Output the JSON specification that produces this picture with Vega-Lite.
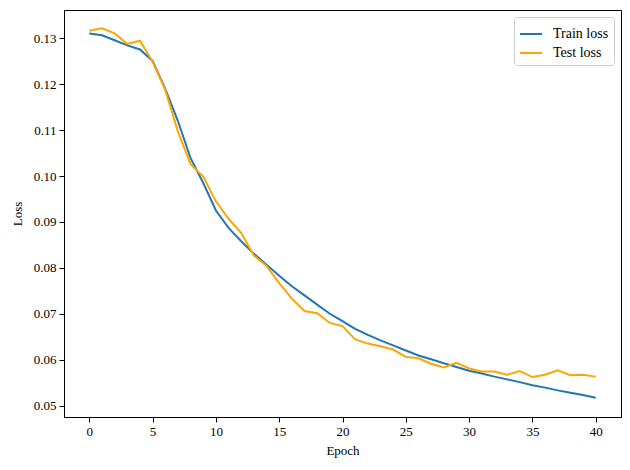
{
  "$schema": "https://vega.github.io/schema/vega-lite/v6.json",
  "width": 557,
  "height": 407,
  "autosize": {"type": "none"},
  "padding": {"left": 64, "top": 10, "right": 9, "bottom": 53},
  "background": "white",
  "config": {
    "font": "Liberation Serif, Times New Roman, Times, serif",
    "view": {"stroke": "black", "strokeWidth": 1},
    "axis": {
      "grid": false,
      "domainColor": "black",
      "tickColor": "black",
      "tickSize": 5,
      "labelFont": "Liberation Serif, Times New Roman, Times, serif",
      "labelFontSize": 13,
      "labelColor": "black",
      "labelPadding": 3,
      "titleFont": "Liberation Serif, Times New Roman, Times, serif",
      "titleFontSize": 13,
      "titleFontWeight": "normal",
      "titleColor": "black"
    }
  },
  "data": {
    "values": [
      {"epoch": 0, "loss": 0.1311, "series": "Train loss"},
      {"epoch": 1, "loss": 0.1307, "series": "Train loss"},
      {"epoch": 2, "loss": 0.1296, "series": "Train loss"},
      {"epoch": 3, "loss": 0.1285, "series": "Train loss"},
      {"epoch": 4, "loss": 0.1276, "series": "Train loss"},
      {"epoch": 5, "loss": 0.1251, "series": "Train loss"},
      {"epoch": 6, "loss": 0.1190, "series": "Train loss"},
      {"epoch": 7, "loss": 0.1120, "series": "Train loss"},
      {"epoch": 8, "loss": 0.1039, "series": "Train loss"},
      {"epoch": 9, "loss": 0.0985, "series": "Train loss"},
      {"epoch": 10, "loss": 0.0925, "series": "Train loss"},
      {"epoch": 11, "loss": 0.0887, "series": "Train loss"},
      {"epoch": 12, "loss": 0.0858, "series": "Train loss"},
      {"epoch": 13, "loss": 0.0831, "series": "Train loss"},
      {"epoch": 14, "loss": 0.0807, "series": "Train loss"},
      {"epoch": 15, "loss": 0.0783, "series": "Train loss"},
      {"epoch": 16, "loss": 0.0760, "series": "Train loss"},
      {"epoch": 17, "loss": 0.0740, "series": "Train loss"},
      {"epoch": 18, "loss": 0.0720, "series": "Train loss"},
      {"epoch": 19, "loss": 0.0700, "series": "Train loss"},
      {"epoch": 20, "loss": 0.0684, "series": "Train loss"},
      {"epoch": 21, "loss": 0.0667, "series": "Train loss"},
      {"epoch": 22, "loss": 0.0654, "series": "Train loss"},
      {"epoch": 23, "loss": 0.0642, "series": "Train loss"},
      {"epoch": 24, "loss": 0.0631, "series": "Train loss"},
      {"epoch": 25, "loss": 0.0620, "series": "Train loss"},
      {"epoch": 26, "loss": 0.0609, "series": "Train loss"},
      {"epoch": 27, "loss": 0.0601, "series": "Train loss"},
      {"epoch": 28, "loss": 0.0592, "series": "Train loss"},
      {"epoch": 29, "loss": 0.0584, "series": "Train loss"},
      {"epoch": 30, "loss": 0.0576, "series": "Train loss"},
      {"epoch": 31, "loss": 0.0570, "series": "Train loss"},
      {"epoch": 32, "loss": 0.0563, "series": "Train loss"},
      {"epoch": 33, "loss": 0.0557, "series": "Train loss"},
      {"epoch": 34, "loss": 0.0551, "series": "Train loss"},
      {"epoch": 35, "loss": 0.0544, "series": "Train loss"},
      {"epoch": 36, "loss": 0.0539, "series": "Train loss"},
      {"epoch": 37, "loss": 0.0533, "series": "Train loss"},
      {"epoch": 38, "loss": 0.0528, "series": "Train loss"},
      {"epoch": 39, "loss": 0.0523, "series": "Train loss"},
      {"epoch": 40, "loss": 0.0517, "series": "Train loss"},
      {"epoch": 0, "loss": 0.1317, "series": "Test loss"},
      {"epoch": 1, "loss": 0.1322, "series": "Test loss"},
      {"epoch": 2, "loss": 0.1311, "series": "Test loss"},
      {"epoch": 3, "loss": 0.1288, "series": "Test loss"},
      {"epoch": 4, "loss": 0.1295, "series": "Test loss"},
      {"epoch": 5, "loss": 0.1249, "series": "Test loss"},
      {"epoch": 6, "loss": 0.1188, "series": "Test loss"},
      {"epoch": 7, "loss": 0.1097, "series": "Test loss"},
      {"epoch": 8, "loss": 0.1026, "series": "Test loss"},
      {"epoch": 9, "loss": 0.0999, "series": "Test loss"},
      {"epoch": 10, "loss": 0.0945, "series": "Test loss"},
      {"epoch": 11, "loss": 0.0907, "series": "Test loss"},
      {"epoch": 12, "loss": 0.0876, "series": "Test loss"},
      {"epoch": 13, "loss": 0.0827, "series": "Test loss"},
      {"epoch": 14, "loss": 0.0804, "series": "Test loss"},
      {"epoch": 15, "loss": 0.0767, "series": "Test loss"},
      {"epoch": 16, "loss": 0.0733, "series": "Test loss"},
      {"epoch": 17, "loss": 0.0706, "series": "Test loss"},
      {"epoch": 18, "loss": 0.0701, "series": "Test loss"},
      {"epoch": 19, "loss": 0.0680, "series": "Test loss"},
      {"epoch": 20, "loss": 0.0673, "series": "Test loss"},
      {"epoch": 21, "loss": 0.0644, "series": "Test loss"},
      {"epoch": 22, "loss": 0.0635, "series": "Test loss"},
      {"epoch": 23, "loss": 0.0629, "series": "Test loss"},
      {"epoch": 24, "loss": 0.0622, "series": "Test loss"},
      {"epoch": 25, "loss": 0.0606, "series": "Test loss"},
      {"epoch": 26, "loss": 0.0603, "series": "Test loss"},
      {"epoch": 27, "loss": 0.0591, "series": "Test loss"},
      {"epoch": 28, "loss": 0.0583, "series": "Test loss"},
      {"epoch": 29, "loss": 0.0593, "series": "Test loss"},
      {"epoch": 30, "loss": 0.0581, "series": "Test loss"},
      {"epoch": 31, "loss": 0.0574, "series": "Test loss"},
      {"epoch": 32, "loss": 0.0574, "series": "Test loss"},
      {"epoch": 33, "loss": 0.0567, "series": "Test loss"},
      {"epoch": 34, "loss": 0.0575, "series": "Test loss"},
      {"epoch": 35, "loss": 0.0562, "series": "Test loss"},
      {"epoch": 36, "loss": 0.0567, "series": "Test loss"},
      {"epoch": 37, "loss": 0.0577, "series": "Test loss"},
      {"epoch": 38, "loss": 0.0566, "series": "Test loss"},
      {"epoch": 39, "loss": 0.0567, "series": "Test loss"},
      {"epoch": 40, "loss": 0.0563, "series": "Test loss"}
    ]
  },
  "mark": {"type": "line", "strokeWidth": 2, "clip": true},
  "encoding": {
    "x": {
      "field": "epoch",
      "type": "quantitative",
      "title": "Epoch",
      "scale": {"domain": [-2, 42], "nice": false, "zero": false},
      "axis": {"values": [0, 5, 10, 15, 20, 25, 30, 35, 40], "titlePadding": 6}
    },
    "y": {
      "field": "loss",
      "type": "quantitative",
      "title": "Loss",
      "scale": {"domain": [0.0475, 0.1362], "nice": false, "zero": false},
      "axis": {"values": [0.05, 0.06, 0.07, 0.08, 0.09, 0.1, 0.11, 0.12, 0.13], "format": ".2f", "titlePadding": 9}
    },
    "color": {
      "field": "series",
      "type": "nominal",
      "sort": ["Train loss", "Test loss"],
      "scale": {"domain": ["Train loss", "Test loss"], "range": ["#1f77b4", "#ffa500"]},
      "legend": {
        "title": null,
        "orient": "top-right",
        "offset": 7,
        "symbolType": "stroke",
        "symbolSize": 484,
        "symbolStrokeWidth": 2,
        "labelFont": "Liberation Serif, Times New Roman, Times, serif",
        "labelFontSize": 14,
        "labelColor": "black",
        "labelOffset": 10,
        "strokeColor": "#cccccc",
        "fillColor": "white",
        "cornerRadius": 3,
        "padding": 5,
        "rowPadding": 0
      }
    }
  }
}
